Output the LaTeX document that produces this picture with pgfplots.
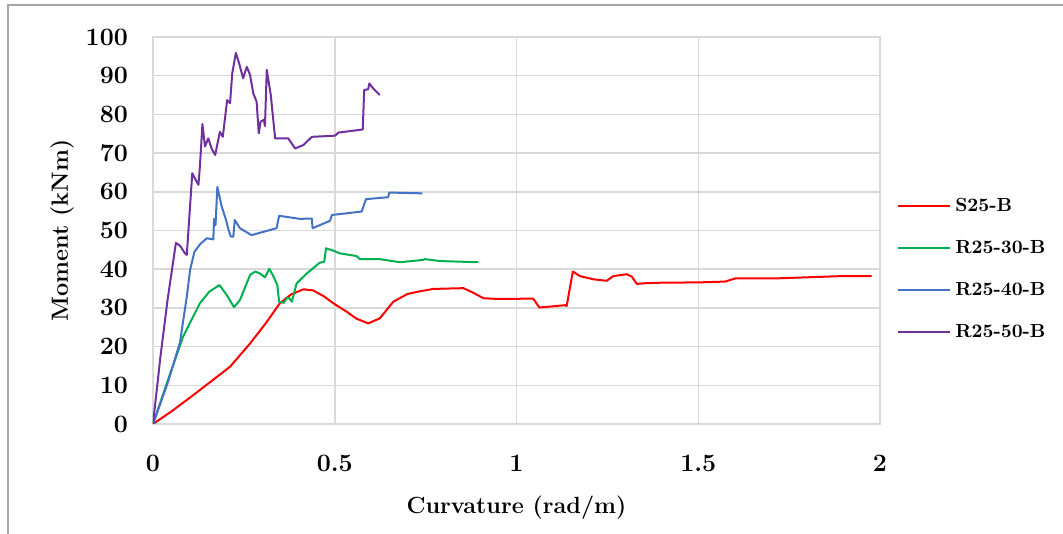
\documentclass[border=0pt]{standalone}
\usepackage{pgfplots}
\pgfplotsset{compat=1.18}
\definecolor{gridgray}{HTML}{D9D9D9}
\definecolor{sred}{HTML}{FF0000}
\definecolor{sgreen}{HTML}{00B050}
\definecolor{sblue}{HTML}{4472C4}
\definecolor{spurple}{HTML}{7030A0}
\begin{document}
\begin{tikzpicture}
\begin{axis}[name=ax,scale only axis,width=363.5pt,height=193.5pt,
  xmin=0,xmax=2,ymin=0,ymax=100,
  xtick={0,0.5,1,1.5,2},xticklabels={0,0.5,1,1.5,2},
  ytick={0,10,...,100},
  grid=major,major grid style={gridgray,line width=0.75pt},
  axis line style={gridgray,line width=0.75pt},
  major tick length=0pt,
  /pgf/number format/assume math mode=true,
  tick label style={font=\fontsize{12.5}{14}\selectfont\bfseries},
  xticklabel style={yshift=-12pt},
  yticklabel style={xshift=-9pt},
  xlabel={Curvature (rad/m)},ylabel={Moment (kNm)},
  label style={font=\fontsize{11.7}{13}\selectfont\bfseries},
  xlabel style={at={(axis description cs:0.5,0)},anchor=center,yshift=-42pt},
  ylabel style={at={(axis description cs:-0.125,0.5)},anchor=center},
  legend style={draw=none,at={(1.015,0.40)},anchor=west,
    font=\fontsize{9.5}{11}\selectfont\bfseries,row sep=9pt,
    legend cell align=left},
  legend image code/.code={\draw[#1,line width=1pt] (0pt,0pt) -- (26pt,0pt);},
  every axis plot/.append style={line width=1pt,line join=round}]
\addplot[sred] coordinates {
(0,0)(0.05,3.2)(0.1,6.7)(0.15,10.3)(0.212,14.8)(0.267,20.8)(0.31,26)(0.349,31.2)
(0.38,33.5)(0.414,34.8)(0.441,34.5)(0.47,33)(0.496,31.2)(0.533,29.0)(0.56,27.2)
(0.592,26.0)(0.624,27.3)(0.661,31.6)(0.7,33.6)(0.735,34.3)(0.771,34.9)(0.854,35.1)
(0.881,33.9)(0.909,32.5)(0.95,32.3)(1.046,32.4)(1.063,30.1)(1.1,30.4)(1.133,30.7)
(1.138,30.5)(1.155,39.4)(1.175,38.2)(1.211,37.4)(1.248,37.0)(1.266,38.2)(1.303,38.7)
(1.317,38.1)(1.331,36.2)(1.358,36.4)(1.395,36.5)(1.505,36.6)(1.574,36.8)(1.601,37.6)
(1.707,37.6)(1.890,38.2)(1.977,38.2)};
\addlegendentry{S25-B}
\addplot[sgreen] coordinates {
(0,0)(0.038,10.5)(0.083,22.6)(0.129,31.2)(0.155,34.2)(0.183,35.9)(0.203,33.3)
(0.223,30.2)(0.239,32.0)(0.267,38.5)(0.281,39.4)(0.294,38.9)(0.308,37.9)(0.320,40.1)
(0.331,38.2)(0.342,35.9)(0.347,31.6)(0.360,31.3)(0.368,32.5)(0.375,32.5)(0.382,31.6)
(0.395,36.3)(0.423,38.9)(0.459,41.7)(0.471,41.9)(0.476,45.4)(0.496,44.8)(0.514,44.1)
(0.560,43.4)(0.569,42.6)(0.624,42.6)(0.679,41.8)(0.744,42.4)(0.748,42.6)(0.790,42.1)
(0.895,41.8)};
\addlegendentry{R25-30-B}
\addplot[sblue] coordinates {
(0,0)(0.04,10.5)(0.074,21)(0.093,32.9)(0.102,39.8)(0.114,44.5)(0.13,46.5)(0.148,48.0)
(0.166,47.7)(0.168,53)(0.172,51.4)(0.177,61.3)(0.189,56.2)(0.201,52.7)(0.208,50.1)
(0.214,48.4)(0.221,48.4)(0.225,52.7)(0.239,50.6)(0.271,48.8)(0.340,50.6)(0.347,53.8)
(0.404,53.0)(0.437,53.1)(0.439,50.6)(0.487,52.5)(0.492,54.0)(0.574,54.9)(0.586,58.1)
(0.647,58.6)(0.650,59.8)(0.741,59.6)};
\addlegendentry{R25-40-B}
\addplot[spurple] coordinates {
(0,0)(0.02,17)(0.04,32)(0.063,46.8)(0.075,46)(0.088,44.1)(0.093,43.7)(0.108,64.8)
(0.118,63)(0.125,61.8)(0.129,66.5)(0.136,77.5)(0.143,71.7)(0.152,73.8)(0.162,71)
(0.171,69.5)(0.184,75.5)(0.192,74.2)(0.204,83.7)(0.212,82.9)(0.218,90.6)(0.228,95.9)
(0.237,93.2)(0.248,89.3)(0.258,92.3)(0.267,90.2)(0.276,85.4)(0.285,83.3)(0.291,75.1)
(0.296,78.1)(0.305,78.6)(0.308,77)(0.313,91.5)(0.324,85.0)(0.336,73.8)(0.372,73.8)
(0.391,71.2)(0.414,72.1)(0.437,74.2)(0.501,74.5)(0.510,75.3)(0.577,76.1)(0.581,86.3)
(0.592,86.5)(0.595,88.0)(0.606,86.7)(0.624,85.0)};
\addlegendentry{R25-50-B}
\end{axis}
\useasboundingbox ([shift={(-76.5pt,-55pt)}]ax.south west) rectangle ([shift={(91.5pt,18.5pt)}]ax.north east);
\draw[gray!70,line width=0.6pt] ([shift={(-72.5pt,-55pt)}]ax.south west) -- ([shift={(-72.5pt,16pt)}]ax.south west|-ax.north east) -- ([shift={(91.5pt,16pt)}]ax.north east);
\end{tikzpicture}
\end{document}
